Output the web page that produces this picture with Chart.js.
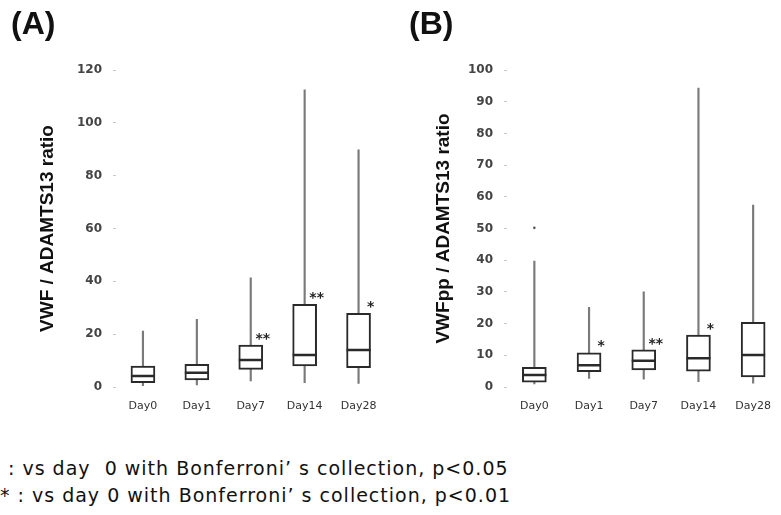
<!DOCTYPE html>
<html>
<head>
<meta charset="utf-8">
<script src="https://cdn.jsdelivr.net/npm/chart.js@4"></script>
<style>
  html, body { margin: 0; padding: 0; background: #fff; }
  #page { position: relative; width: 781px; height: 515px; overflow: hidden; background: #fff; }
  canvas { position: absolute; top: 0; }
  .panel { position: absolute; top: 5px; font: bold 32px "Liberation Sans", Arial, sans-serif; color: #111; }
  .note { position: absolute; left: 0; font: 19px "DejaVu Sans", sans-serif; line-height: 24px; letter-spacing: 1px; color: #111; white-space: pre; }
</style>
</head>
<body>
<div id="page">
  <canvas id="chartA" width="400" height="430" style="left:0"></canvas>
  <canvas id="chartB" width="405" height="430" style="left:390px"></canvas>
  <div class="panel" style="left:11px">(A)</div>
  <div class="panel" style="left:409px">(B)</div>
  <div class="note" style="left:8px;top:456px">: vs day  0 with Bonferroni’ s collection, p&lt;0.05</div>
  <div class="note" style="left:0;top:483px">* : vs day 0 with Bonferroni’ s collection, p&lt;0.01</div>
</div>
<script>
const days = ['Day0', 'Day1', 'Day7', 'Day14', 'Day28'];

// (A) VWF / ADAMTS13
const aTicks = [0, 20, 40, 60, 80, 100, 120];
const aMin = [0.5, 0.8, 2.3, 1.6, 1.4];
const aQ1 = [1.6, 2.7, 6.7, 8.0, 7.3];
const aMed = [4.2, 5.4, 10.2, 12.1, 14.0];
const aQ3 = [7.9, 8.6, 15.9, 31.3, 27.9];
const aMax = [21.2, 25.6, 41.3, 112.5, 89.8];
const aOut = [null, null, null, null, null];
const aSig = ['', '', '**', '**', '*'];

// (B) VWFpp / ADAMTS13
const bTicks = [0, 10, 20, 30, 40, 50, 60, 70, 80, 90, 100];
const bMin = [1.0, 2.7, 2.5, 1.7, 1.2];
const bQ1 = [1.5, 4.8, 5.4, 5.0, 3.2];
const bMed = [3.8, 6.9, 8.3, 9.1, 10.1];
const bQ3 = [6.2, 10.8, 11.7, 16.4, 20.4];
const bMax = [39.7, 25.1, 30.0, 94.3, 57.4];
const bOut = [50.2, null, null, null, null];
const bSig = ['', '*', '**', '*', ''];

Chart.defaults.font.family = '"DejaVu Sans", sans-serif';
Chart.defaults.color = '#444';

// stars above the boxes
const sigPlugin = {
    id: 'sig',
    afterDatasetsDraw(chart, args, opts) {
        const { ctx, scales } = chart;
        ctx.save();
        ctx.font = 'bold 14px "DejaVu Sans"';
        ctx.fillStyle = '#222';
        ctx.textAlign = 'center';
        ctx.textBaseline = 'middle';
        opts.labels.forEach((t, i) => {
            if (!t) return;
            ctx.fillText(t, scales.x.getPixelForValue(i) + 12, scales.y.getPixelForValue(opts.top[i]) - 6);
        });
        ctx.restore();
    }
};

function makeChart(id, s) {
    const pairs = (lo, hi) => lo.map((v, i) => [v, hi[i]]);
    new Chart(document.getElementById(id), {
        type: 'bar',
        data: {
            labels: days,
            datasets: [
                {
                    data: pairs(s.min, s.max),
                    backgroundColor: '#7a7a7a',
                    barThickness: 1.5,
                    grouped: false,
                    order: 3
                },
                {
                    data: pairs(s.q1, s.q3),
                    backgroundColor: '#fff',
                    borderColor: '#2a2a2a',
                    borderWidth: 2,
                    borderSkipped: false,
                    barThickness: 24,
                    grouped: false,
                    order: 2
                },
                {
                    type: 'line',
                    data: s.med,
                    showLine: false,
                    pointStyle: 'line',
                    pointRadius: 12,
                    pointBorderWidth: 2.5,
                    pointBorderColor: '#2a2a2a',
                    order: 1
                },
                {
                    type: 'line',
                    data: s.out,
                    showLine: false,
                    pointRadius: 1.3,
                    pointBorderWidth: 0,
                    pointBackgroundColor: '#555',
                    order: 0
                }
            ]
        },
        options: {
            responsive: false,
            animation: false,
            layout: { padding: { left: 0, right: s.padRight, top: 70, bottom: 13 } },
            plugins: {
                legend: { display: false },
                tooltip: { enabled: false },
                sig: { labels: s.sig, top: s.q3 }
            },
            scales: {
                x: {
                    grid: { display: false, drawTicks: false },
                    border: { display: false },
                    ticks: { padding: 13, font: { size: 11 }, color: '#333' },
                    afterFit: sc => { sc.height = 30; }
                },
                y: {
                    min: s.ticks[0],
                    max: s.ticks[s.ticks.length - 1],
                    afterBuildTicks: sc => { sc.ticks = s.ticks.map(v => ({ value: v })); },
                    grid: { drawOnChartArea: false, drawTicks: true, tickLength: 3, color: '#c8c8c8' },
                    border: { display: false },
                    ticks: { padding: 11, font: { size: 12, weight: 'bold' }, color: '#444' },
                    title: {
                        display: true,
                        text: s.title,
                        color: '#111',
                        padding: { top: s.titlePad, bottom: 0 },
                        font: { family: '"Liberation Sans", Arial, sans-serif', size: 19, weight: 'bold' }
                    },
                    afterFit: sc => { sc.width = s.axisWidth; }
                }
            }
        },
        plugins: [sigPlugin]
    });
}

makeChart('chartA', {
    ticks: aTicks, min: aMin, q1: aQ1, med: aMed, q3: aQ3, max: aMax, out: aOut, sig: aSig,
    title: 'VWF / ADAMTS13 ratio', titlePad: 36, axisWidth: 116, padRight: 3
});

makeChart('chartB', {
    ticks: bTicks, min: bMin, q1: bQ1, med: bMed, q3: bQ3, max: bMax, out: bOut, sig: bSig,
    title: 'VWFpp / ADAMTS13 ratio', titlePad: 42, axisWidth: 117, padRight: 4.5
});
</script>
</body>
</html>
